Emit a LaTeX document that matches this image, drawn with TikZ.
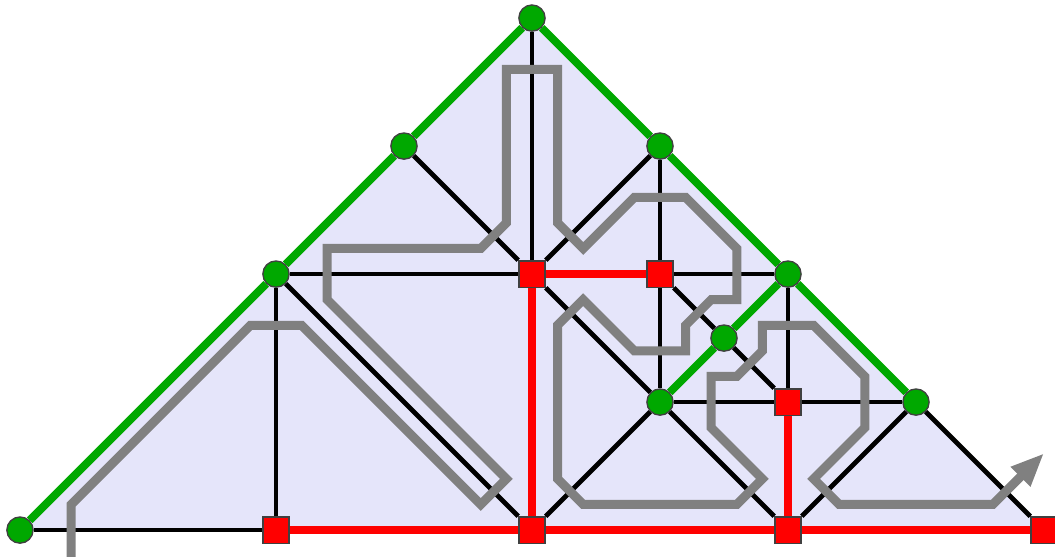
\documentclass[tikz,border=0pt]{standalone}
\usepackage{tikz}
\usetikzlibrary{arrows.meta}

\definecolor{sitegreen}{RGB}{0,168,0}
\definecolor{cellfill}{RGB}{229,229,250}

\begin{document}
\begin{tikzpicture}[x=1cm, y=1cm]
    \tikzstyle{site} = [draw=black!75, line width=0.3pt, circle, fill=sitegreen,
	minimum size=2.05mm, inner sep=0pt]
    \tikzstyle{cut} = [draw=black!75, line width=0.3pt, rectangle, fill=red,
	minimum size=2.05mm, inner sep=0pt]
    \tikzstyle{bond} = [black, line width=1.05pt]
    \tikzstyle{redbond} = [red, line width=1.8pt]
    \tikzstyle{greenbond} = [sitegreen, line width=1.75pt]
    \tikzstyle{walk} = [gray, line width=2.0pt]

	\useasboundingbox (-0.156,-0.203) rectangle (8.086,4.141);
	\fill[cellfill] (0,0) -- (4,4) -- (8,0) -- cycle;

	\path
		node[site] (L) at (0,0) {}
		node[site] (A) at (2,2) {}
		node[site] (B) at (3,3) {}
		node[site] (T) at (4,4) {}
		node[site] (C) at (5,3) {}
		node[site] (D) at (6,2) {}
		node[site] (E) at (7,1) {}
		node[site] (F) at (5,1) {}
		node[site] (G) at (5.5,1.5) {}
		node[cut] (P) at (2,0) {}
		node[cut] (Q) at (4,0) {}
		node[cut] (R) at (6,0) {}
		node[cut] (S) at (8,0) {}
		node[cut] (X) at (4,2) {}
		node[cut] (Y) at (5,2) {}
		node[cut] (Z) at (6,1) {}

		(L) edge[bond] (P)
		(A) edge[bond] (P)
		(A) edge[bond] (X)
		(A) edge[bond] (Q)
		(T) edge[bond] (X)
		(B) edge[bond] (X)
		(X) edge[bond] (C)
		(X) edge[bond] (F)
		(C) edge[bond] (Y)
		(Y) edge[bond] (F)
		(Y) edge[bond] (D)
		(Y) edge[bond] (G)
		(G) edge[bond] (Z)
		(D) edge[bond] (Z)
		(F) edge[bond] (Z)
		(Z) edge[bond] (E)
		(F) edge[bond] (Q)
		(F) edge[bond] (R)
		(R) edge[bond] (E)
		(E) edge[bond] (S)

		(P) edge[redbond] (Q)
		(Q) edge[redbond] (R)
		(R) edge[redbond] (S)
		(Q) edge[redbond] (X)
		(X) edge[redbond] (Y)
		(R) edge[redbond] (Z)

		(L) edge[greenbond] (A)
		(A) edge[greenbond] (B)
		(B) edge[greenbond] (T)
		(T) edge[greenbond] (C)
		(C) edge[greenbond] (D)
		(D) edge[greenbond] (E)
		(F) edge[greenbond] (G)
		(G) edge[greenbond] (D)
	   ;

	% the walk through the cells
	\draw[walk, -{Triangle[length=2.6mm, width=2mm]}]
		(0.4,-0.3) -- (0.4,0.2) -- (1.8,1.6) -- (2.2,1.6) -- (3.6,0.2)
		-- (3.8,0.4) -- (2.4,1.8) -- (2.4,2.2) -- (3.6,2.2) -- (3.8,2.4)
		-- (3.8,3.6) -- (4.2,3.6) -- (4.2,2.4) -- (4.4,2.2) -- (4.8,2.6)
		-- (5.2,2.6) -- (5.6,2.2) -- (5.6,1.8) -- (5.4,1.8) -- (5.2,1.6)
		-- (5.2,1.4) -- (4.8,1.4) -- (4.4,1.8) -- (4.2,1.6) -- (4.2,0.4)
		-- (4.4,0.2) -- (5.6,0.2) -- (5.8,0.4) -- (5.4,0.8) -- (5.4,1.2)
		-- (5.6,1.2) -- (5.8,1.4) -- (5.8,1.6) -- (6.2,1.6) -- (6.6,1.2)
		-- (6.6,0.8) -- (6.2,0.4) -- (6.4,0.2) -- (7.6,0.2) -- (8,0.6);
\end{tikzpicture}
\end{document}
